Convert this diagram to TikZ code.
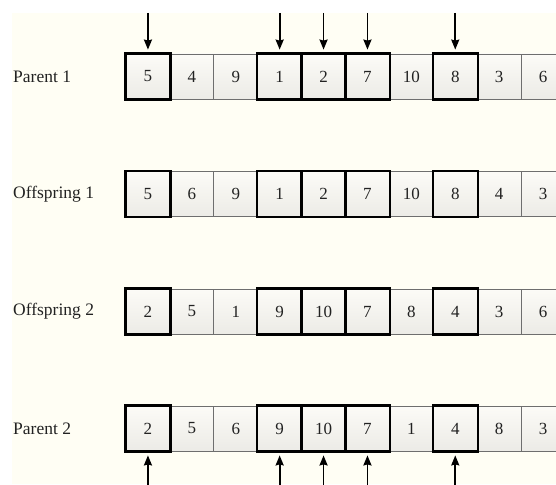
\documentclass[tikz,border=0pt]{standalone}
\usepackage{fontspec}
\setmainfont{Liberation Serif}
\usetikzlibrary{arrows.meta}
\definecolor{cream}{RGB}{255,254,244}
\definecolor{celltop}{RGB}{252,251,247}
\definecolor{cellbot}{RGB}{236,235,230}
\definecolor{cellgray}{RGB}{110,110,110}
\definecolor{txt}{RGB}{34,34,34}
\begin{document}
\begin{tikzpicture}[x=1pt,y=-1pt,
  cell/.style={draw=cellgray, line width=0.8pt, minimum width=44pt, minimum height=45pt,
    inner sep=0pt, top color=celltop, bottom color=cellbot,
    font=\fontsize{17}{20}\selectfont, text=txt},
  sel/.style={draw=black, line width=2.3pt},
  lab/.style={anchor=west, inner sep=0pt, font=\fontsize{17.5}{20}\selectfont, text=txt},
  arr/.style={line width=1.8pt, -{Stealth[length=10pt,width=8pt,inset=1pt]}}]
\useasboundingbox (0,0) rectangle (556,484);
\clip (0,0) rectangle (556,484);
\fill[cream] (12,13) rectangle (556,484);
\foreach \r/\yy/\lb/\vals in {1/76.5/Parent 1/{5,4,9,1,2,7,10,8,3,6},
                              2/194/Offspring 1/{5,6,9,1,2,7,10,8,4,3},
                              3/311.5/Offspring 2/{2,5,1,9,10,7,8,4,3,6},
                              4/428.5/Parent 2/{2,5,6,9,10,7,1,4,8,3}}{
  \node[lab] (L\r) at (13,\yy) {\lb};
  \foreach \v [count=\c] in \vals {
    \node[cell] (r\r-\c) at ({126+43.9*(\c-0.5)},\yy) {\v};
  }
  \foreach \c in {1,4,5,6,8} {
    \draw[sel] (r\r-\c.north west) rectangle (r\r-\c.south east);
  }
}
\foreach \c in {1,4,5,6,8} {
  \coordinate (t\c) at ({126+43.9*(\c-0.5)},13);
  \coordinate (b\c) at ({126+43.9*(\c-0.5)},486);
  \draw[arr, shorten >=4pt] (t\c) -- (r1-\c.north);
  \draw[arr, shorten >=4pt] (b\c) -- (r4-\c.south);
}
\end{tikzpicture}
\end{document}
